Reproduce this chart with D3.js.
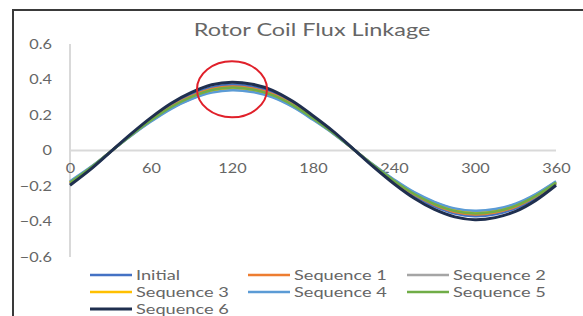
<!DOCTYPE html>
<html>
<head>
<meta charset="utf-8">
<script src="https://cdn.jsdelivr.net/npm/d3@7"></script>
<style>
  body { margin: 0; background: #fff; }
  text { font-family: Lato, "Open Sans", sans-serif; fill: #666; }
</style>
</head>
<body>
<div id="chart"></div>
<script>
"use strict";

// chart data
var angles = [0, 15, 30, 45, 60, 75, 90, 105, 120, 135, 150, 165, 180,
  195, 210, 225, 240, 255, 270, 285, 300, 315, 330, 345, 360];

var initial = [-0.189, -0.104, -0.007, 0.089, 0.178, 0.255, 0.315, 0.355, 0.370, 0.359, 0.326, 0.266, 0.189,
  0.104, 0.007, -0.089, -0.178, -0.255, -0.315, -0.355, -0.370, -0.359, -0.326, -0.266, -0.189];
var sequence1 = [-0.184, -0.101, -0.007, 0.086, 0.173, 0.248, 0.306, 0.346, 0.360, 0.349, 0.317, 0.259, 0.184,
  0.101, 0.007, -0.086, -0.173, -0.248, -0.306, -0.346, -0.360, -0.349, -0.317, -0.259, -0.184];
var sequence2 = [-0.176, -0.097, -0.007, 0.083, 0.166, 0.238, 0.293, 0.331, 0.345, 0.335, 0.304, 0.248, 0.176,
  0.097, 0.007, -0.083, -0.166, -0.238, -0.293, -0.331, -0.345, -0.335, -0.304, -0.248, -0.176];
var sequence3 = [-0.179, -0.098, -0.007, 0.084, 0.168, 0.242, 0.298, 0.336, 0.350, 0.340, 0.308, 0.252, 0.179,
  0.098, 0.007, -0.084, -0.168, -0.242, -0.298, -0.336, -0.350, -0.340, -0.308, -0.252, -0.179];
var sequence4 = [-0.173, -0.095, -0.007, 0.082, 0.163, 0.235, 0.289, 0.326, 0.340, 0.330, 0.299, 0.245, 0.173,
  0.095, 0.007, -0.082, -0.163, -0.235, -0.289, -0.326, -0.340, -0.330, -0.299, -0.245, -0.173];
var sequence5 = [-0.181, -0.099, -0.007, 0.085, 0.170, 0.245, 0.302, 0.341, 0.355, 0.344, 0.312, 0.256, 0.181,
  0.099, 0.007, -0.085, -0.170, -0.245, -0.302, -0.341, -0.355, -0.344, -0.312, -0.256, -0.181];
var sequence6 = [-0.196, -0.108, -0.008, 0.092, 0.185, 0.266, 0.327, 0.370, 0.385, 0.373, 0.339, 0.277, 0.196,
  0.108, 0.008, -0.093, -0.187, -0.269, -0.332, -0.374, -0.390, -0.378, -0.343, -0.281, -0.196];

var seriesNames = ["Initial", "Sequence 1", "Sequence 2", "Sequence 3", "Sequence 4", "Sequence 5", "Sequence 6"];
var seriesValues = [initial, sequence1, sequence2, sequence3, sequence4, sequence5, sequence6];
var seriesColors = ["#4472c4", "#ed7d31", "#a5a5a5", "#ffc000", "#5b9bd5", "#70ad47", "#1f2f4f"];

var xTicks = [0, 60, 120, 180, 240, 300, 360];
var yTicks = [-0.6, -0.4, -0.2, 0, 0.2, 0.4, 0.6];

// red circle marking the peak
var highlight = {angle: 120, value: 0.345};

var width = 583, height = 316;
var sx = 1.25; // text in the picture is stretched sideways

var svg = d3.select("#chart").append("svg")
  .attr("width", width)
  .attr("height", height);

// frame
svg.append("path")
  .attr("d", "M13," + height + "V10H" + width)
  .attr("fill", "none")
  .attr("stroke", "#3a3a3a")
  .attr("stroke-width", 2);

var x = d3.scaleLinear().domain([0, 360]).range([70, 556]);
var y = d3.scaleLinear().domain([-0.6, 0.6]).range([257, 44]);

// title
svg.append("text")
  .attr("transform", "translate(312,36) scale(1.38,1)")
  .attr("text-anchor", "middle")
  .style("font-size", "17px")
  .text("Rotor Coil Flux Linkage");

// y axis
var yAxis = svg.append("g")
  .attr("transform", "translate(" + x(0) + ",0)")
  .call(d3.axisLeft(y).tickValues(yTicks).tickSize(0).tickPadding(0)
    .tickFormat(function(d) { return d === 0 ? "0" : d3.format(".1f")(d); }));
yAxis.select(".domain").remove();
yAxis.selectAll("text")
  .attr("x", -14.5)
  .attr("transform", "scale(" + sx + ",1)")
  .style("font-size", "13px")
  .style("font-family", "Lato, sans-serif")
  .attr("fill", "#666");
svg.append("line")
  .attr("x1", x(0)).attr("x2", x(0))
  .attr("y1", y(0.6)).attr("y2", y(-0.6))
  .attr("stroke", "#d9d9d9")
  .attr("stroke-width", 2);

// x axis along zero
var xAxis = svg.append("g")
  .attr("transform", "translate(0," + y(0) + ")")
  .call(d3.axisBottom(x).tickValues(xTicks).tickSize(0).tickPadding(13));
xAxis.select(".domain").remove();
xAxis.selectAll("text")
  .attr("transform", "scale(" + sx + ",1)")
  .style("font-size", "13px")
  .style("font-family", "Lato, sans-serif")
  .attr("fill", "#666");
svg.append("line")
  .attr("x1", x(0)).attr("x2", x(360))
  .attr("y1", y(0)).attr("y2", y(0))
  .attr("stroke", "#d9d9d9")
  .attr("stroke-width", 2);

// series
var line = d3.line()
  .x(function(d, i) { return x(angles[i]); })
  .y(function(d) { return y(d); })
  .curve(d3.curveCatmullRom);

seriesValues.forEach(function(vals, i) {
  svg.append("path")
    .attr("d", line(vals))
    .attr("fill", "none")
    .attr("stroke", seriesColors[i])
    .attr("stroke-width", i === 6 ? 3 : 2.5);
});

// highlight ellipse
svg.append("ellipse")
  .attr("cx", x(highlight.angle))
  .attr("cy", y(highlight.value))
  .attr("rx", 35)
  .attr("ry", 28)
  .attr("fill", "none")
  .attr("stroke", "#e0202a")
  .attr("stroke-width", 2);

// legend, 3 columns
var legendCols = [90, 248, 407];
var legendRows = [275, 292, 309];
var legend = svg.selectAll(".legend")
  .data(seriesNames)
  .enter()
  .append("g")
  .attr("class", "legend")
  .attr("transform", function(d, i) {
    return "translate(" + legendCols[i % 3] + "," + legendRows[Math.floor(i / 3)] + ")";
  });

legend.append("line")
  .attr("x1", 0).attr("x2", 42)
  .attr("stroke", function(d, i) { return seriesColors[i]; })
  .attr("stroke-width", function(d, i) { return i === 6 ? 3 : 2.5; });

legend.append("text")
  .attr("transform", "translate(46,0) scale(1.4,1)")
  .attr("dy", "0.35em")
  .style("font-size", "13px")
  .text(function(d) { return d; });
</script>
</body>
</html>
